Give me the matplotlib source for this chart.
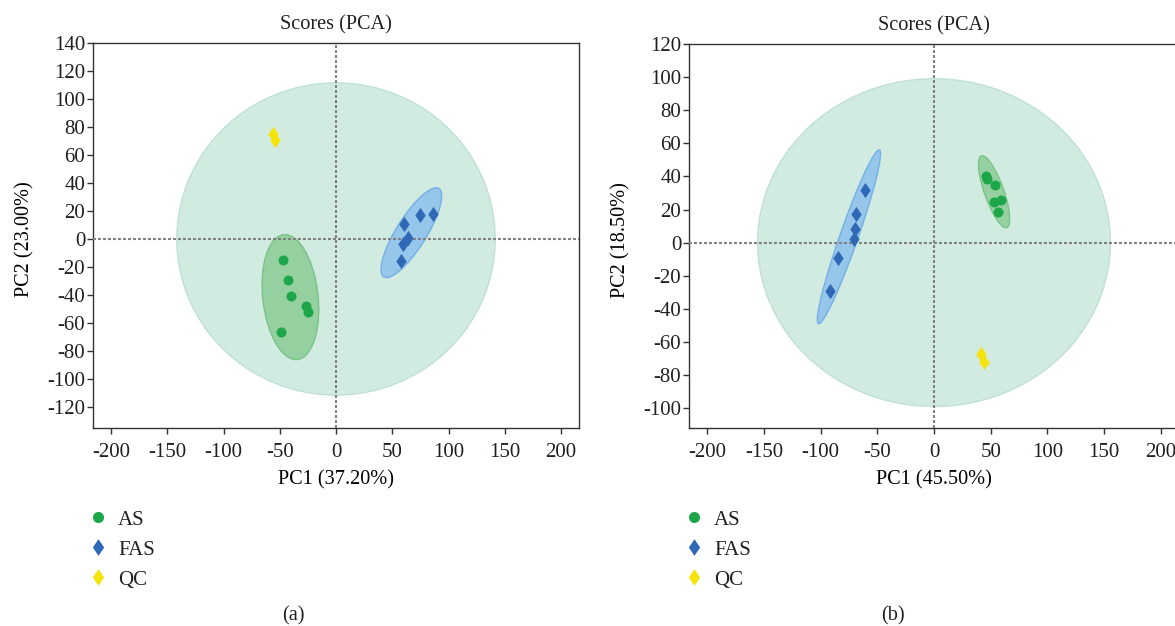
import matplotlib
matplotlib.use("Agg")
import matplotlib.pyplot as plt
from matplotlib.patches import Ellipse
from matplotlib.lines import Line2D

plt.rcParams['font.family'] = ['Liberation Serif', 'DejaVu Serif']
plt.rcParams['font.size'] = 14.6
plt.rcParams['text.color'] = '#231f20'
plt.rcParams['axes.unicode_minus'] = False

# panel (a) scores
as_a_x = [-47, -43, -40, -27, -25, -49]
as_a_y = [-15, -29.5, -40.5, -47.5, -52, -66.5]
fas_a_x = [60, 74.5, 86, 64, 59.5, 58]
fas_a_y = [11, 17, 18, 1, -3.5, -15.5]
qc_a_x = [-56, -54]
qc_a_y = [75, 71]

# panel (b) scores
as_b_x = [45.5, 47, 53.5, 53, 59, 56.5]
as_b_y = [40.5, 38.5, 35, 24.5, 25.5, 18.5]
fas_b_x = [-61, -69, -70, -70.5, -85, -91.5]
fas_b_y = [32, 17.5, 8.5, 2, -9.5, -29]
qc_b_x = [41, 44]
qc_b_y = [-67, -72]

# confidence ellipses: (cx, cy, width, height, angle)
all_a = (0, 0, 283, 223, 0)
as_ell_a = (-40.5, -41.5, 90, 49, 99)
fas_ell_a = (67, 4.5, 80, 25, 51)
all_b = (0, 0, 311, 198, 0)
as_ell_b = (53, 30.75, 49, 16, 119)
fas_ell_b = (-75, 3.5, 118, 15, 62.7)

pc1_a, pc2_a = "PC1 (37.20%)", "PC2 (23.00%)"
pc1_b, pc2_b = "PC1 (45.50%)", "PC2 (18.50%)"
groups = ["AS", "FAS", "QC"]

c_as, c_fas, c_qc = '#1ea64a', '#2f68b6', '#f4e40a'
diamond = [(0, 1), (0.68, 0), (0, -1), (-0.68, 0), (0, 1)]


def ell(ax, p, fc, ec, z):
    e = Ellipse((p[0], p[1]), p[2], p[3], angle=p[4], facecolor=fc,
                edgecolor=ec, linewidth=1.0, zorder=z)
    ax.add_patch(e)


def panel(ax, d, xlab, ylab, ylim, yticks):
    ell(ax, d['all'], '#d2ebe1', '#bfe1d3', 1)
    ell(ax, d['as_e'], '#95d1a0', '#79c388', 2)
    ell(ax, d['fas_e'], '#97c6eb', '#72b0e6', 2)
    ax.axhline(0, color='#7f7f7f', lw=1.5, ls=(0, (1.4, 1.0)), zorder=3)
    ax.axvline(0, color='#7f7f7f', lw=1.5, ls=(0, (1.4, 1.0)), zorder=3)
    ax.scatter(d['as'][0], d['as'][1], s=52, marker='o', color=c_as, zorder=4, lw=0)
    ax.scatter(d['fas'][0], d['fas'][1], s=120, marker=diamond, color=c_fas, zorder=4, lw=0)
    ax.scatter(d['qc'][0], d['qc'][1], s=120, marker=diamond, color=c_qc, zorder=4, lw=0)
    ax.set_xlim(-216, 216)
    ax.set_ylim(*ylim)
    ax.set_xticks(range(-200, 201, 50))
    ax.set_yticks(yticks)
    ax.tick_params(axis='both', direction='out', length=4, width=1, colors='#333333',
                   labelcolor='#231f20', labelsize=15)
    ax.tick_params(axis='x', pad=6.5)
    ax.tick_params(axis='y', pad=1.5)
    for s in ax.spines.values():
        s.set_color('#333333')
        s.set_linewidth(1.0)
    ax.set_title("Scores (PCA)", fontsize=14.6, pad=10)
    ax.set_xlabel(xlab, fontsize=14.6, labelpad=6.5)
    ax.set_ylabel(ylab, fontsize=14.6)
    ax.yaxis.set_label_coords(-0.12, 0.49)


fig = plt.figure(figsize=(11.75, 6.26), dpi=100)
ax1 = fig.add_axes([93 / 1175, 198 / 626, 486 / 1175, 385 / 626])
ax2 = fig.add_axes([689 / 1175, 198 / 626, 490 / 1175, 384 / 626])

panel(ax1, {'all': all_a, 'as_e': as_ell_a, 'fas_e': fas_ell_a,
            'as': (as_a_x, as_a_y), 'fas': (fas_a_x, fas_a_y), 'qc': (qc_a_x, qc_a_y)},
      pc1_a, pc2_a, (-135, 140), range(-120, 141, 20))
panel(ax2, {'all': all_b, 'as_e': as_ell_b, 'fas_e': fas_ell_b,
            'as': (as_b_x, as_b_y), 'fas': (fas_b_x, fas_b_y), 'qc': (qc_b_x, qc_b_y)},
      pc1_b, pc2_b, (-112, 120), range(-100, 121, 20))
ax2.yaxis.set_label_coords(-0.12 * 486 / 490, 0.49)

handles = [Line2D([], [], marker='o', ls='', color=c_as, markersize=8, mew=0),
           Line2D([], [], marker=diamond, ls='', color=c_fas, markersize=12, mew=0),
           Line2D([], [], marker=diamond, ls='', color=c_qc, markersize=12, mew=0)]

for xl in (90 / 1175, 686 / 1175):
    fig.legend(handles, groups, loc='upper left', bbox_to_anchor=(xl, 1 - 510 / 626),
               frameon=False, fontsize=15, handlelength=0.8, handletextpad=0.55,
               labelspacing=0.5, borderpad=0, borderaxespad=0)

fig.text(293 / 1175, 1 - 616 / 626, "(a)", ha='center', va='center', fontsize=14.6)
fig.text(893 / 1175, 1 - 616 / 626, "(b)", ha='center', va='center', fontsize=14.6)

fig.savefig("out.png", dpi=100)
